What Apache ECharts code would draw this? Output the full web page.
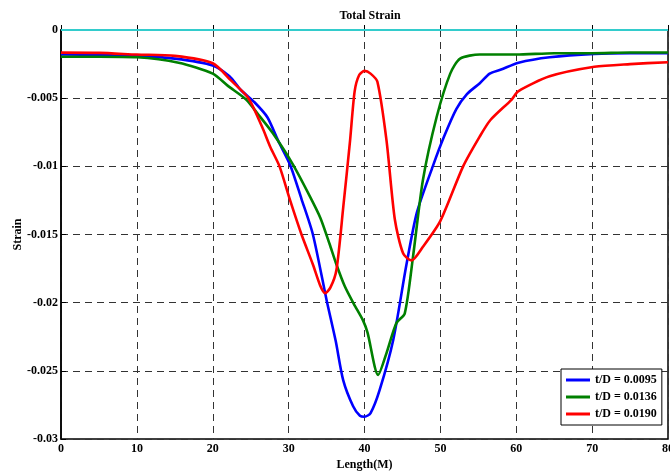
<!DOCTYPE html>
<html>
<head>
<meta charset="utf-8">
<script src="https://cdn.jsdelivr.net/npm/echarts@6/dist/echarts.min.js"></script>
<style>
html,body{margin:0;padding:0;background:#fff;}
#c{width:670px;height:475px;}
</style>
</head>
<body>
<div id="c"></div>
<script>
var titleText = 'Total Strain';
var xName = 'Length(M)';
var yName = 'Strain';
var legendNames = ['t/D = 0.0095', 't/D = 0.0136', 't/D = 0.0190'];

var blueX = [0, 5, 10, 15, 20, 22.2, 23.7, 25.5, 27.2, 28.6, 30.2, 31.7, 33.2, 35, 36.2, 37.2, 38.5, 39.4, 40, 40.8, 42, 43.8, 45.5, 46.9, 49, 50.5, 52.1, 53.5, 55.2, 56.5, 58, 60.3, 64.4, 70.3, 75, 80];
var blueY = [-0.0018, -0.00182, -0.0019, -0.0021, -0.0026, -0.0034, -0.0044, -0.0053, -0.0064, -0.0081, -0.0099, -0.0124, -0.015, -0.0198, -0.0228, -0.0257, -0.0276, -0.0283, -0.02837, -0.0281, -0.0264, -0.0227, -0.0173, -0.0134, -0.0100, -0.0078, -0.0058, -0.0047, -0.0039, -0.0032, -0.0029, -0.0024, -0.0020, -0.00175, -0.0017, -0.0017];

var greenX = [0, 5, 10, 15.5, 20, 22, 24.4, 26, 27.9, 30.5, 32.8, 34.2, 35.4, 36.3, 37.4, 38.6, 39.8, 40.4, 41.8, 42.9, 44.2, 45.3, 46.4, 47.7, 49.5, 51.3, 52.6, 55.2, 60, 65, 70, 75, 80];
var greenY = [-0.00196, -0.00196, -0.002, -0.0024, -0.0032, -0.0041, -0.0051, -0.0062, -0.00756, -0.0098, -0.0122, -0.0138, -0.0157, -0.0172, -0.0188, -0.0201, -0.0213, -0.0222, -0.0253, -0.0237, -0.0215, -0.0208, -0.0166, -0.011, -0.0064, -0.0032, -0.0021, -0.0018, -0.0018, -0.0017, -0.0017, -0.00165, -0.00165];

var redX = [0, 5, 10, 15, 20, 22.4, 24.7, 26.5, 27.6, 28.8, 30.2, 31.7, 33.2, 34.2, 34.8, 35.5, 36.3, 37.2, 38.1, 38.7, 39.3, 40, 40.8, 41.7, 42.9, 44, 45.1, 46.2, 47.7, 50, 53, 55.2, 56.6, 59.4, 60.25, 64.4, 70.3, 75, 80];
var redY = [-0.00166, -0.00168, -0.0018, -0.0019, -0.00244, -0.0037, -0.005, -0.0071, -0.0086, -0.010, -0.0125, -0.015, -0.0172, -0.0188, -0.0193, -0.0189, -0.0176, -0.013, -0.0081, -0.0045, -0.0033, -0.003, -0.0032, -0.0038, -0.0081, -0.0139, -0.0164, -0.0169, -0.0159, -0.0140, -0.0100, -0.0078, -0.0066, -0.0051, -0.0045, -0.0034, -0.0027, -0.0025, -0.00236];

var zeroX = [0, 80];
var zeroY = [0, 0];

function pairs(xs, ys) { return xs.map(function (x, i) { return [x, ys[i]]; }); }

var font = 'Liberation Serif, Times New Roman, serif';
var chart = echarts.init(document.getElementById('c'), null, {renderer: 'canvas'});

function mkSeries(name, xs, ys, color) {
  return {
    name: name, type: 'line', data: pairs(xs, ys), showSymbol: false,
    smooth: 0.25,
    lineStyle: {color: color, width: 2.6}, itemStyle: {color: color},
    animation: false
  };
}

chart.setOption({
  animation: false,
  backgroundColor: '#fff',
  title: {
    text: titleText, left: 365, top: 5, textAlign: 'center',
    textStyle: {fontFamily: font, fontWeight: 'bold', fontSize: 12, color: '#000'}
  },
  grid: {left: 61, right: 2, top: 30, bottom: 36, outerBoundsMode: 'none', containLabel: false,
    show: true, borderColor: '#000', borderWidth: 1.5, backgroundColor: 'transparent'},
  legend: {
    data: legendNames, orient: 'vertical', left: 561, top: 369,
    backgroundColor: '#fff', borderColor: '#000', borderWidth: 1,
    padding: [5, 5, 5, 5], itemGap: 5, itemWidth: 24, itemHeight: 3, icon: 'rect',
    textStyle: {fontFamily: font, fontWeight: 'bold', fontSize: 12, color: '#000'}
  },
  xAxis: {
    type: 'value', min: 0, max: 80, interval: 10,
    name: xName, nameLocation: 'middle', nameGap: 20, nameMoveOverlap: false,
    nameTextStyle: {fontFamily: font, fontWeight: 'bold', fontSize: 12, color: '#000'},
    axisLine: {show: true, lineStyle: {color: '#000', width: 1.5}},
    axisTick: {show: true, inside: true, length: 5, lineStyle: {color: '#000'}},
    axisLabel: {fontFamily: font, fontWeight: 'bold', fontSize: 12, color: '#000', margin: 4},
    splitLine: {show: true, lineStyle: {color: '#333', width: 1, type: [7, 5]}}
  },
  yAxis: {
    type: 'value', min: -0.03, max: 0, interval: 0.005,
    name: yName, nameLocation: 'middle', nameGap: 37, nameRotate: 90, nameMoveOverlap: false,
    nameTextStyle: {fontFamily: font, fontWeight: 'bold', fontSize: 12, color: '#000'},
    axisLine: {show: true, lineStyle: {color: '#000', width: 1.5}},
    axisTick: {show: true, inside: true, length: 5, lineStyle: {color: '#000'}},
    axisLabel: {fontFamily: font, fontWeight: 'bold', fontSize: 12, color: '#000', margin: 3,
      formatter: function (v) { return String(+v.toFixed(4)); }},
    splitLine: {show: true, lineStyle: {color: '#333', width: 1, type: [7, 5]}}
  },
  series: [
    {name: 'zero', type: 'line', data: pairs(zeroX, zeroY), showSymbol: false,
     lineStyle: {color: '#33cccc', width: 2.2}, z: 5},
    mkSeries(legendNames[0], blueX, blueY, '#0000ff'),
    mkSeries(legendNames[1], greenX, greenY, '#008000'),
    mkSeries(legendNames[2], redX, redY, '#ff0000')
  ]
});
</script>
</body>
</html>
